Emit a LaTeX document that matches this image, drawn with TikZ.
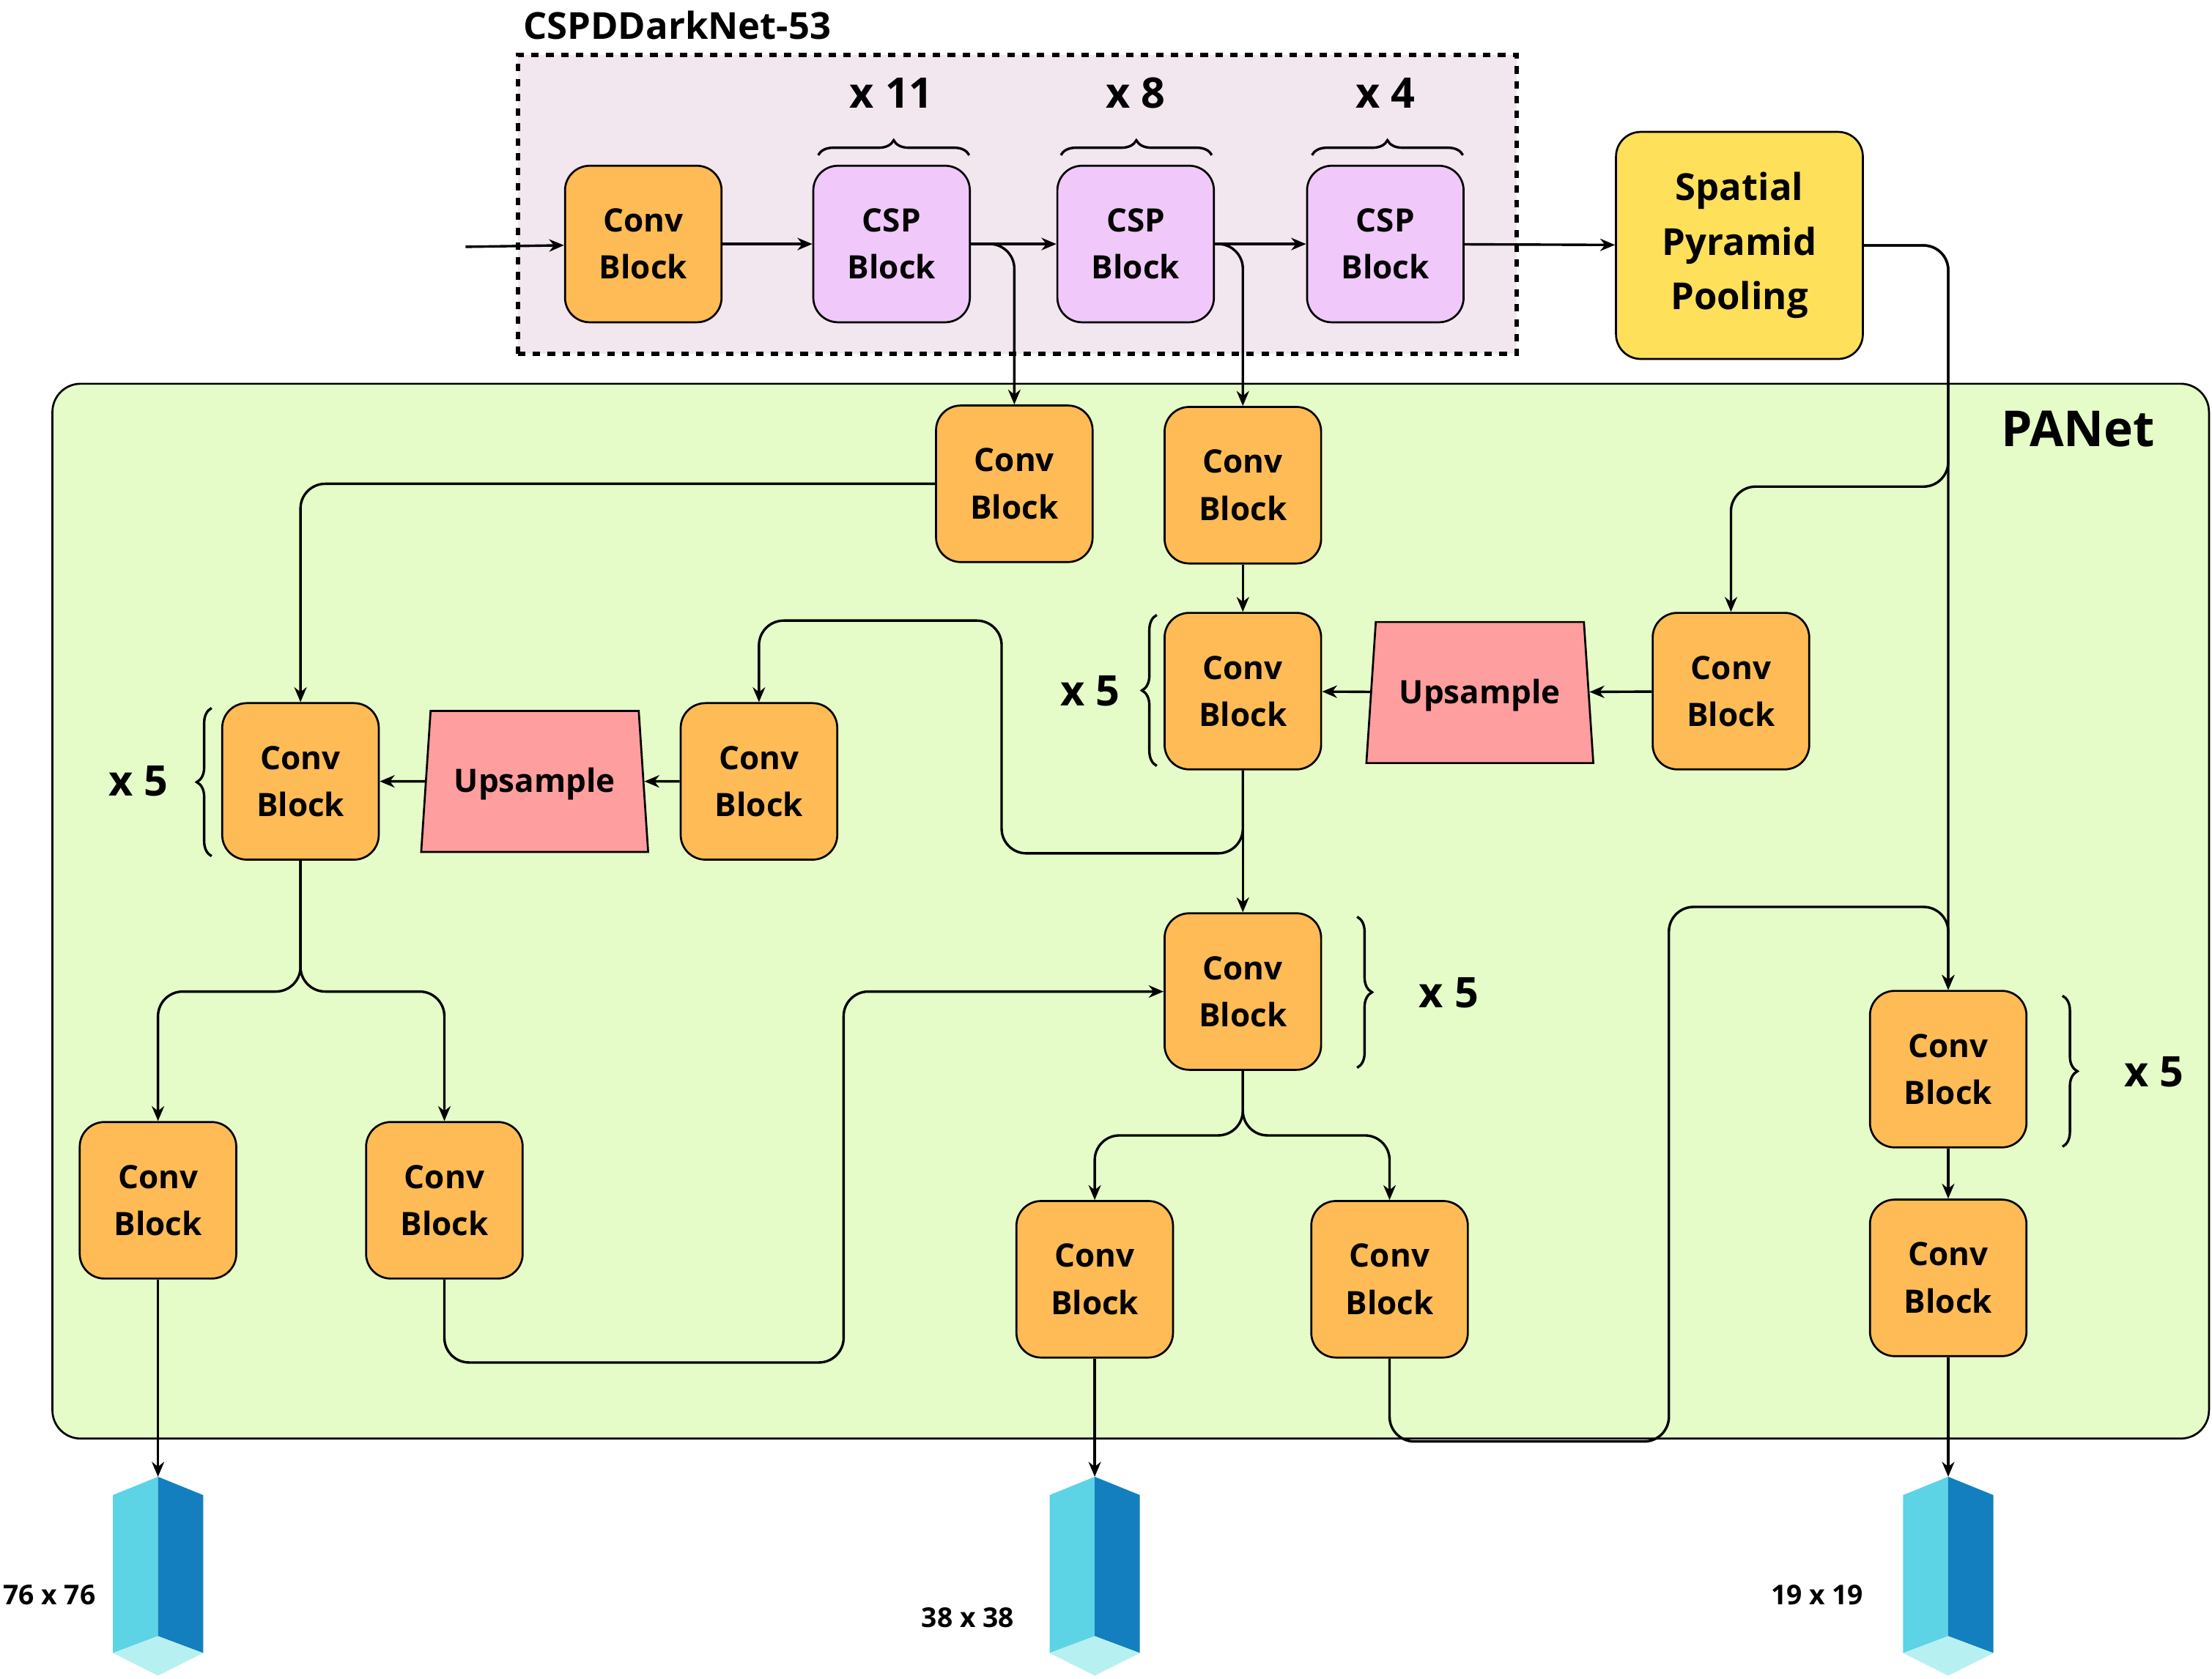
\documentclass[tikz,border=0pt]{standalone}
\usepackage{fontspec}
\setmainfont{Open Sans}
\usetikzlibrary{arrows.meta,shapes.geometric,decorations.pathreplacing}
\definecolor{orng}{HTML}{FFBB55}
\definecolor{purp}{HTML}{F0C8FA}
\definecolor{pnk}{HTML}{FF9E9E}
\definecolor{ylw}{HTML}{FFE05A}
\definecolor{pan}{HTML}{E5FCC8}
\definecolor{csp}{HTML}{F2E6EF}
\definecolor{cyl}{HTML}{5DD3E6}
\definecolor{cyd}{HTML}{137FBF}
\definecolor{cyb}{HTML}{B7F0F0}
\begin{document}
\begin{tikzpicture}[x=0.02cm,y=-0.02cm,
  >={Stealth[length=6pt,width=5pt]},
  line width=1pt,
  blk/.style={draw=black,line width=0.8pt,rounded corners=0.35cm,minimum width=2.22cm,minimum height=2.22cm,align=center,font=\fontsize{13}{19}\selectfont\bfseries,inner sep=0pt},
  cv/.style={blk,fill=orng},
  cs/.style={blk,fill=purp},
  ups/.style={trapezium,trapezium stretches=true,draw=black,line width=0.8pt,fill=pnk,minimum width=3.22cm,minimum height=2cm,trapezium left angle=79,trapezium right angle=79,font=\fontsize{13}{16}\selectfont\bfseries,inner sep=0pt},
  conn/.style={->,rounded corners=0.35cm},
  br/.style={decorate,decoration={brace,amplitude=6pt},line width=1pt},
  rep/.style={font=\fontsize{17}{20}\selectfont\bfseries},
  outl/.style={font=\fontsize{11}{13}\selectfont\bfseries}]
\useasboundingbox (0,0) rectangle (1568,1190);
% backgrounds
\node[draw=black,line width=1.8pt,dashed,fill=csp,minimum width=14.16cm,minimum height=4.24cm,inner sep=0pt] (cspbox) at (721,145) {};
\node[font=\fontsize{15}{18}\selectfont\bfseries] (csptitle) at (480,18) {CSPDDarkNet-53};
\node[draw=black,line width=0.8pt,fill=pan,rounded corners=0.4cm,minimum width=30.58cm,minimum height=14.96cm,inner sep=0pt] (panbox) at (801.5,646) {};
\node[font=\fontsize{20}{24}\selectfont\bfseries] (pantitle) at (1473,304) {PANet};
% backbone
\node[cv] (c0) at (456,173) {Conv\\Block};
\node[cs] (s1) at (632,173) {CSP\\Block};
\node[cs] (s2) at (805,173) {CSP\\Block};
\node[cs] (s3) at (982,173) {CSP\\Block};
\node[blk,fill=ylw,minimum width=3.5cm,minimum height=3.22cm,font=\fontsize{15}{22}\selectfont\bfseries] (spp) at (1233,174) {Spatial\\Pyramid\\Pooling};
\draw[br] (580,110) -- (687,110);
\draw[br] (752,110) -- (859,110);
\draw[br] (930,110) -- (1037,110);
\node[rep] (r1) at (632,66) {x 11};
\node[rep] (r2) at (805,66) {x 8};
\node[rep] (r3) at (982,66) {x 4};
% PANet nodes
\node[cv] (ca) at (719,343) {Conv\\Block};
\node[cv] (cb) at (881,344) {Conv\\Block};
\node[cv] (cc) at (881,490) {Conv\\Block};
\node[ups] (u1) at (1049,491) {\raisebox{-12pt}{Upsample}};
\node[cv] (cd) at (1227,490) {Conv\\Block};
\node[cv] (ce) at (538,554) {Conv\\Block};
\node[ups] (u2) at (379,554) {\raisebox{-12pt}{Upsample}};
\node[cv] (cf) at (213,554) {Conv\\Block};
\node[cv] (cg) at (881,703) {Conv\\Block};
\node[cv] (ch) at (112,851) {Conv\\Block};
\node[cv] (ci) at (315,851) {Conv\\Block};
\node[cv] (cj) at (776,907) {Conv\\Block};
\node[cv] (ck) at (985,907) {Conv\\Block};
\node[cv] (cm) at (1381,758) {Conv\\Block};
\node[cv] (cn) at (1381,906) {Conv\\Block};
% braces
\draw[br] (820,543) -- (820,436);
\node[rep] (r4) at (773,490) {x 5};
\draw[br] (150,607) -- (150,502);
\node[rep] (r5) at (98,554) {x 5};
\draw[br] (962,650) -- (962,757);
\node[rep] (r6) at (1027,704) {x 5};
\draw[br] (1462,706) -- (1462,813);
\node[rep] (r7) at (1527,760) {x 5};
% outputs
\foreach \n/\x in {o1/112,o2/776,o3/1381}{
  \fill[cyl] (\x-32,1060) -- (\x,1047) -- (\x,1160) -- (\x-32,1172) -- cycle;
  \fill[cyd] (\x,1047) -- (\x+32,1060) -- (\x+32,1172) -- (\x,1160) -- cycle;
  \fill[cyb] (\x-32,1172) -- (\x,1160) -- (\x+32,1172) -- (\x,1188) -- cycle;
  \coordinate (\n) at (\x,1047);
}
\node[outl] (l1) at (35,1131) {76 x 76};
\node[outl] (l2) at (686,1147) {38 x 38};
\node[outl] (l3) at (1288,1131) {19 x 19};
% connectors
\coordinate (in) at (330,175);
\draw[->] (in) -- (c0);
\draw[->] (c0) -- (s1);
\draw[->] (s1) -- (s2);
\draw[->] (s2) -- (s3);
\draw[->] (s3) -- (spp);
\draw[conn] (s1.east) -| (ca.north);
\draw[conn] (s2.east) -| (cb.north);
\draw[conn] (spp.east) -| (cm.north);
\draw[conn] (spp.east) -| (1381,345) -| (cd.north);
\draw[->] (cb) -- (cc);
\draw[->] (cd) -- (u1);
\draw[->] (u1) -- (cc);
\draw[->] (cc) -- (cg);
\draw[conn] (cc.south) |- (710,605) |- (538,440) -- (ce.north);
\draw[->] (ce) -- (u2);
\draw[->] (u2) -- (cf);
\draw[conn] (ca.west) -| (cf.north);
\draw[conn] (cf.south) |- (160,703) -| (ch.north);
\draw[conn] (cf.south) |- (260,703) -| (ci.north);
\draw[conn] (ci.south) |- (598,966) |- (cg.west);
\draw[conn] (cg.south) |- (830,805) -| (cj.north);
\draw[conn] (cg.south) |- (930,805) -| (ck.north);
\draw[conn] (ck.south) |- (1183,1022) |- (1300,643) -| (cm.north);
\draw[->] (cm) -- (cn);
\draw[->] (ch.south) -- (o1);
\draw[->] (cj.south) -- (o2);
\draw[->] (cn.south) -- (o3);
\end{tikzpicture}
\end{document}
